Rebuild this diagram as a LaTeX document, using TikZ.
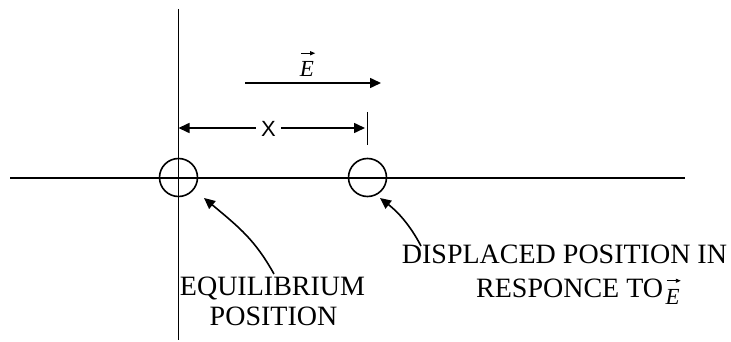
\documentclass[tikz,border=0pt]{standalone}
\usepackage{fontspec}
\setmainfont{Liberation Serif}
\newfontfamily\xsans{Liberation Sans}
\usetikzlibrary{arrows.meta}
\begin{document}
\begin{tikzpicture}[x=1pt,y=-1pt,
  ln/.style={line width=1.6pt},
  arr/.style={ln,-{Triangle[length=11pt,width=10pt]}},
  vecarr/.style={line width=0.9pt,-{Triangle[length=5pt,width=4pt]}},
  lbl/.style={font=\fontsize{28}{32}\selectfont,inner sep=0pt,anchor=base},
  elbl/.style={font=\fontsize{23}{26}\selectfont\itshape,inner sep=0pt,anchor=base},
  circ/.style={ln,draw,circle,minimum size=38pt,inner sep=0pt}]
\useasboundingbox (0,0) rectangle (731,342);
% axes
\coordinate (vt) at (178.5,9);
\coordinate (vb) at (178.5,340);
\coordinate (hl) at (10,178);
\coordinate (hr) at (685,178);
\draw[ln] (vt) -- (vb);
\draw[ln] (hl) -- (hr);
% particles
\node[circ] (eq) at (178.5,177.5) {};
\node[circ] (disp) at (367.5,177.5) {};
% field arrow
\coordinate (ea) at (245,83);
\coordinate (eb) at (381,83);
\draw[arr] (ea) -- (eb);
\node[elbl] (elab) at (307,77) {E};
\draw[vecarr] ([xshift=1.5pt,yshift=8.5pt]elab.north west) -- ([xshift=1pt,yshift=8.5pt]elab.north east);
% displacement dimension
\node[font=\xsans\fontsize{22}{24}\selectfont,inner sep=0pt,minimum width=25pt] (xl) at (268.5,129) {X};
\coordinate (dl) at (178.5,128);
\coordinate (dr) at (365,128);
\draw[arr] (xl.west |- dl) -- (dl);
\draw[arr] (xl.east |- dr) -- (dr);
\coordinate (tt) at (367.5,112);
\coordinate (tb) at (367.5,145);
\draw[ln] (tt) -- (tb);
% labels
\node[lbl] (eqlab) at (272.5,295) {EQUILIBRIUM};
\node[lbl] (poslab) at (273.5,325) {POSITION};
\node[lbl] (displab) at (564.5,263) {DISPLACED POSITION IN};
\node[lbl,anchor=base west] (resp) at (476,297) {RESPONCE TO};
\node[elbl,anchor=base west] (e2) at ([xshift=2pt,yshift=-7pt]resp.base east) {E};
\draw[vecarr] ([xshift=1.5pt,yshift=8pt]e2.north west) -- ([xshift=1pt,yshift=8pt]e2.north east);
% pointers
\coordinate (p1) at (274,274);
\coordinate (p2) at (421,246);
\draw[arr] (p1) .. controls (255,240) and (240,228) .. (204,198);
\draw[arr] (p2) .. controls (410,225) and (398,212) .. (380,198);
\end{tikzpicture}
\end{document}
